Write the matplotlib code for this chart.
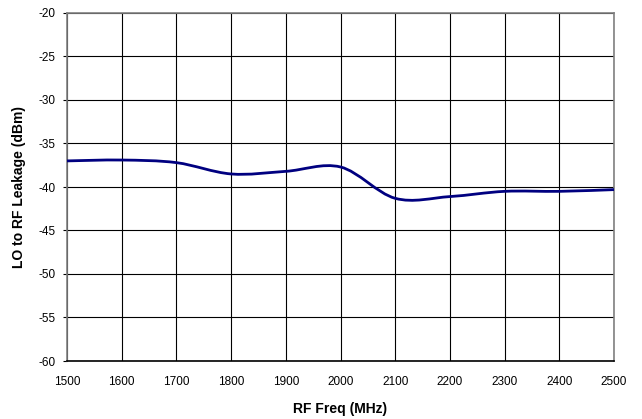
import numpy as np
import matplotlib
matplotlib.use("Agg")
from matplotlib import pyplot as plt
from matplotlib.path import Path
from matplotlib.patches import PathPatch

plt.rcParams['font.family'] = ['Liberation Sans', 'DejaVu Sans']
plt.rcParams['axes.unicode_minus'] = False

freq = [1500, 1600, 1700, 1800, 1900, 2000, 2100, 2200, 2300, 2400, 2500]
leakage = [-37.0, -36.9, -37.2, -38.5, -38.2, -37.7, -41.3, -41.1, -40.5, -40.5, -40.3]


def smooth_path(x, y):
    # Catmull-Rom style bezier through the points, like Excel's smoothed line
    x = np.asarray(x, float)
    y = np.asarray(y, float)
    verts = [(x[0], y[0])]
    codes = [Path.MOVETO]
    n = len(x)
    for i in range(n - 1):
        i0 = max(i - 1, 0)
        i3 = min(i + 2, n - 1)
        c1 = (x[i] + (x[i + 1] - x[i0]) / 6, y[i] + (y[i + 1] - y[i0]) / 6)
        c2 = (x[i + 1] - (x[i3] - x[i]) / 6, y[i + 1] - (y[i3] - y[i]) / 6)
        verts += [c1, c2, (x[i + 1], y[i + 1])]
        codes += [Path.CURVE4] * 3
    return Path(verts, codes)


fig = plt.figure(figsize=(6.42, 4.19), dpi=100)
ax = fig.add_axes([67 / 642, 1 - 361 / 419, (614 - 67) / 642, (361 - 13) / 419])

ax.add_patch(PathPatch(smooth_path(freq, leakage), fill=False,
                       edgecolor='#000080', linewidth=2, zorder=3))

ax.set_xlim(1500, 2500)
ax.set_ylim(-60, -20)
ax.set_xticks(range(1500, 2501, 100))
ax.set_yticks(range(-60, -19, 5))
ax.grid(True, color='black', linewidth=0.8)
ax.set_axisbelow(True)
ax.tick_params(axis='x', length=0, labelsize=8.5, pad=11)
ax.tick_params(axis='y', length=3, width=0.8, labelsize=8.5, pad=5)
for s in ax.spines.values():
    s.set_color('#808080')
    s.set_linewidth(1.2)
ax.spines['bottom'].set_color('black')

ax.set_xlabel('RF Freq (MHz)', fontsize=10, fontweight='bold', labelpad=10)
ax.set_ylabel('LO to RF Leakage (dBm)', fontsize=10, fontweight='bold', labelpad=9)

fig.savefig('out.png', dpi=100, facecolor='white')
